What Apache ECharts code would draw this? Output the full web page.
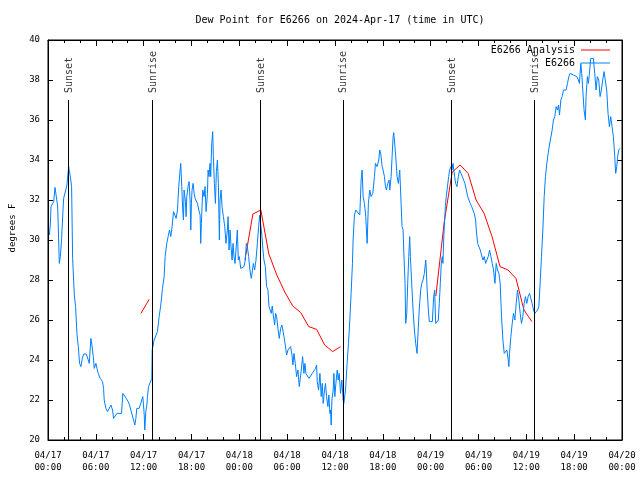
<!DOCTYPE html>
<html>
<head>
<meta charset="utf-8">
<script src="https://cdn.jsdelivr.net/npm/echarts@6/dist/echarts.min.js"></script>
<style>html,body{margin:0;padding:0;background:#fff}#chart{width:640px;height:480px}</style>
</head>
<body>
<div id="chart"></div>
<script>
// Hours since 2024-04-17 00:00 UTC
const xTickLabels = ['04/17\n00:00','04/17\n06:00','04/17\n12:00','04/17\n18:00','04/18\n00:00','04/18\n06:00','04/18\n12:00','04/18\n18:00','04/19\n00:00','04/19\n06:00','04/19\n12:00','04/19\n18:00','04/20\n00:00'];

const sunHours = [2.54, 13.06, 26.59, 36.98, 50.63, 61.02];
const sunNames = ['Sunset','Sunrise','Sunset','Sunrise','Sunset','Sunrise'];
const sunLineTop = 37;

const anaHours = [11.65, 12.69, 18.0,
  24.7, 25.7, 26.7, 27.7, 28.7, 29.7, 30.7, 31.7, 32.7, 33.7, 34.7, 35.7, 36.7, 42.0,
  48.65, 49.7, 50.7, 51.7, 52.7, 53.7, 54.7, 55.7, 56.7, 57.7, 58.7, 59.7, 60.7];
const anaDew = [26.33, 27.03, null,
  29.0, 31.3, 31.5, 29.3, 28.25, 27.4, 26.7, 26.37, 25.67, 25.53, 24.75, 24.42, 24.67, null,
  27.2, 30.9, 33.4, 33.75, 33.33, 32.0, 31.33, 30.17, 28.67, 28.5, 28.08, 26.5, 25.92];

const obsHours = [
0.17,0.29,0.38,0.59,0.71,0.88,1.13,1.21,1.42,1.55,1.71,1.88,1.96,2.17,2.38,2.59,2.80,2.96,3.09,3.30,
3.46,3.63,3.80,3.96,4.13,4.30,4.47,4.80,5.05,5.18,5.38,5.51,5.68,5.80,6.01,6.14,6.30,6.55,6.84,6.97,
7.05,7.26,7.47,7.68,7.89,8.10,8.22,8.39,8.64,9.22,9.39,9.56,9.81,10.06,10.23,10.39,10.56,10.73,10.89,11.02,
11.14,11.43,11.64,11.89,12.06,12.14,12.27,12.40,12.48,12.61,12.77,13.02,
13.07,13.31,13.52,13.73,13.94,14.15,14.36,14.57,14.69,14.90,15.07,15.24,15.40,15.57,15.74,15.90,16.07,16.24,
16.40,16.57,16.65,16.78,16.90,16.99,17.07,17.24,17.32,17.41,17.57,17.70,17.82,17.91,17.99,18.07,18.20,18.33,
18.45,18.58,18.74,18.91,19.08,19.16,19.24,19.41,19.58,19.70,19.83,20.00,20.08,20.20,20.33,20.41,20.54,20.66,
20.74,20.87,21.00,21.12,21.25,21.37,21.50,21.58,21.71,21.83,22.00,22.17,22.33,22.50,22.59,22.71,22.84,22.96,
23.09,23.21,23.33,23.46,23.58,23.75,23.87,24.00,24.17,24.58,24.75,24.88,25.00,25.17,25.33,25.50,25.59,25.76,
25.92,26.09,26.26,26.42,26.55,26.67,26.84,26.96,27.09,27.26,
27.42,27.59,27.72,27.84,28.01,28.13,28.26,28.43,28.55,28.68,28.84,29.01,29.18,29.34,29.51,29.60,29.76,29.93,
30.10,30.26,30.43,30.60,30.72,30.85,31.02,31.18,31.35,31.52,31.68,31.77,31.94,32.10,32.23,32.35,32.52,32.73,
32.94,33.15,33.35,33.56,33.69,33.77,33.94,34.11,34.27,34.40,34.52,34.69,34.81,34.94,35.11,35.23,35.36,35.44,
35.52,35.61,35.77,35.86,35.98,36.11,36.28,36.40,36.53,36.69,36.86,37.02,
37.11,37.32,37.52,37.69,37.86,38.02,38.19,38.27,38.44,38.61,38.86,39.11,39.28,39.40,39.53,39.69,39.86,39.94,
40.03,40.19,40.36,40.53,40.74,40.95,41.07,41.28,41.49,41.61,41.74,41.91,42.03,42.20,42.33,42.45,42.62,42.79,
42.87,43.04,43.16,43.29,43.37,43.49,43.62,43.79,43.95,44.12,44.29,44.41,44.54,44.62,44.79,44.87,45.00,45.12,
45.25,45.37,45.46,45.62,45.79,45.96,46.12,46.29,46.37,46.54,46.62,46.75,46.88,47.04,47.21,47.38,47.46,47.54,
47.71,47.83,48.21,48.38,48.50,48.63,48.79,48.96,49.08,49.21,49.33,49.46,49.54,49.63,49.71,49.84,49.96,50.13,
50.26,50.38,50.55,50.67,50.80,
51.01,51.13,51.30,51.47,51.63,51.80,51.97,52.13,52.30,52.47,52.64,52.80,52.97,53.14,53.30,53.47,53.64,53.72,
53.89,54.05,54.22,54.39,54.55,54.72,54.89,55.06,55.22,55.39,55.56,55.72,55.89,56.06,56.22,56.39,56.56,56.72,
56.89,57.06,57.23,57.39,57.56,57.73,57.81,57.89,58.06,58.23,58.39,58.56,58.73,58.89,59.06,59.23,59.39,59.56,
59.73,59.89,60.06,60.23,60.40,60.56,60.73,60.90,61.07,61.23,61.40,61.57,61.73,61.90,62.07,62.24,62.40,62.57,
62.74,
62.90,63.07,63.24,63.40,63.57,63.74,63.91,64.03,64.16,64.33,64.49,64.66,64.83,64.99,65.16,65.33,65.49,65.70,
65.91,66.12,66.33,66.53,66.66,66.83,66.95,67.08,67.24,67.41,67.49,67.66,67.79,67.91,68.08,68.41,68.58,68.75,
68.91,69.08,69.25,69.41,69.58,69.75,69.92,70.08,70.25,70.42,70.58,70.75,70.92,71.09,71.21,71.34,71.46,71.59,
71.75];
const obsDew = [
30.25,30.75,31.67,31.67,31.92,32.63,32.63,31.7,28.83,29.17,30.08,31.5,32.08,32.0,32.75,33.67,33.17,32.67,29.08,27.25,
26.67,25.33,24.67,23.83,23.67,24.08,24.3,24.3,24.0,23.83,25.08,24.75,24.17,23.58,23.83,23.58,23.33,23.08,22.92,22.58,
22.0,21.58,21.42,21.58,21.75,21.5,21.08,21.08,21.33,21.33,22.33,22.25,22.08,21.92,21.75,21.5,21.25,21.0,20.75,21.08,
21.58,21.58,21.83,22.17,21.33,20.5,21.42,21.75,22.17,22.67,22.75,23.08,
24.5,25.0,25.08,25.42,26.17,26.75,27.58,28.17,29.17,29.83,30.17,30.5,30.17,30.67,31.42,31.33,31.08,31.5,
32.67,33.5,33.83,32.67,31.5,31.0,32.5,31.92,31.17,32.17,32.67,32.92,32.0,30.5,31.83,32.5,32.83,32.33,
32.08,32.0,31.83,31.5,31.25,29.83,30.83,32.5,32.17,32.67,31.42,32.33,33.5,33.17,33.83,33.17,34.83,35.42,
34.17,32.83,31.83,33.42,34.0,32.83,30.0,32.0,32.5,31.67,31.17,30.67,29.83,30.5,31.17,29.5,30.5,29.67,
29.0,29.83,29.17,28.83,29.5,30.5,29.0,29.17,28.58,28.67,29.0,29.83,29.67,29.17,28.5,28.08,28.33,28.83,
28.5,29.0,29.83,30.67,31.25,30.83,30.17,29.5,29.0,28.67,
27.67,27.5,26.67,26.75,26.33,26.7,26.25,25.75,26.33,26.17,25.58,25.08,25.58,25.75,25.67,25.17,24.75,24.25,
24.5,24.42,24.67,24.25,23.75,24.33,23.83,23.17,23.5,22.67,22.67,23.5,24.17,23.33,23.83,23.33,23.42,23.08,
23.17,23.33,23.42,23.58,23.75,22.92,22.5,23.33,22.17,22.83,21.83,22.5,22.83,22.17,21.67,22.25,21.33,21.5,
20.75,22.0,22.5,23.33,22.17,22.83,23.5,23.0,23.33,22.33,23.0,22.0,
21.83,22.5,23.83,24.83,26.0,27.33,28.83,30.0,31.25,31.5,31.42,31.25,33.0,33.5,32.17,31.83,31.17,30.5,
29.83,31.83,32.5,32.17,32.33,33.17,33.83,33.67,34.0,34.5,34.33,33.67,33.5,33.17,32.67,32.5,32.83,33.0,
32.5,33.17,34.17,35.17,35.37,35.33,34.17,33.17,32.83,33.5,31.83,30.67,30.5,29.5,27.83,25.83,26.33,27.83,
29.17,30.17,29.17,27.83,26.5,25.5,24.83,24.33,25.0,26.33,26.83,27.5,27.83,28.0,28.33,29.0,28.5,27.67,
26.5,25.92,25.92,27.17,27.5,25.83,25.75,26.0,26.83,27.83,28.83,29.17,28.83,30.0,30.67,31.67,32.17,32.75,
33.17,33.5,33.67,33.5,33.83,
33.17,32.83,32.67,33.17,33.5,33.33,33.17,33.0,32.83,32.5,32.17,32.0,31.83,31.67,31.5,31.33,31.0,30.5,
29.83,29.75,29.5,29.5,29.0,29.17,28.83,28.83,29.17,29.5,29.17,28.83,28.5,27.83,28.83,28.5,28.33,27.83,
26.17,25.0,24.33,24.33,24.5,24.0,23.67,24.33,25.17,25.83,26.33,26.0,26.83,27.5,27.0,26.33,25.83,26.17,
26.83,27.17,26.83,27.17,27.33,27.33,26.83,26.5,26.33,26.33,26.5,26.67,27.83,29.17,30.5,32.17,33.17,33.83,
34.33,
34.75,34.75,35.5,36.0,36.17,36.67,36.5,36.75,36.25,37.0,37.17,37.5,37.42,37.5,37.83,38.17,38.33,38.33,
38.25,38.25,38.17,38.0,37.83,38.83,38.33,37.5,36.5,36.0,37.17,38.17,37.83,38.33,39.08,39.08,38.33,37.5,
38.17,38.0,37.17,37.5,38.0,38.42,38.42,37.5,36.33,35.67,36.17,35.67,35.17,34.17,33.33,33.67,34.17,34.5,
34.58];

const FONT = 'DejaVu Sans Mono';
const chart = echarts.init(document.getElementById('chart'), null, {renderer: 'canvas'});

function xAxisCfg(pos, showLabel) {
  return {
    type: 'value', min: 0, max: 72, interval: 6, position: pos,
    axisLine: {show: true, onZero: false, lineStyle: {color: '#000', width: 1}},
    axisTick: {show: true, inside: true, length: 6, lineStyle: {color: '#000'}},
    minorTick: {show: true, splitNumber: 3, length: 3, lineStyle: {color: '#000'}},
    splitLine: {show: false}, minorSplitLine: {show: false},
    axisLabel: {show: showLabel, formatter: v => xTickLabels[Math.round(v / 6)],
      fontFamily: FONT, fontSize: 9, color: '#000', margin: 9, lineHeight: 12.5}
  };
}
function yAxisCfg(pos, showLabel) {
  const c = {
    type: 'value', min: 20, max: 40, interval: 2, position: pos,
    axisLine: {show: true, onZero: false, lineStyle: {color: '#000', width: 1}},
    axisTick: {show: true, inside: true, length: 5, lineStyle: {color: '#000'}},
    splitLine: {show: false},
    axisLabel: {show: showLabel, fontFamily: FONT, fontSize: 9, color: '#000', margin: 8}
  };
  if (showLabel) {
    c.name = 'degrees F';
    c.nameLocation = 'middle';
    c.nameGap = 31;
    c.nameTextStyle = {fontFamily: FONT, fontSize: 9, color: '#000', padding: [0, 0, 0, 24]};
  }
  return c;
}

const option = {
  animation: false,
  backgroundColor: '#fff',
  title: {
    text: 'Dew Point for E6266 on 2024-Apr-17 (time in UTC)',
    left: 335, top: 10, textAlign: 'center',
    textStyle: {fontFamily: FONT, fontSize: 10, fontWeight: 'normal', color: '#000'}
  },
  legend: {
    data: ['E6266 Analysis', 'E6266'],
    orient: 'vertical', align: 'right', right: 25, top: 40,
    icon: 'rect', itemWidth: 29, itemHeight: 1, itemGap: 3,
    textStyle: {fontFamily: FONT, fontSize: 10, color: '#000', padding: [0, 1, 0, 0]}
  },
  grid: {left: 47, right: 18, top: 40, bottom: 40, show: true, borderColor: '#000', borderWidth: 1},
  xAxis: [xAxisCfg('bottom', true), xAxisCfg('top', false)],
  yAxis: [yAxisCfg('left', true), yAxisCfg('right', false)],
  series: [
    {
      type: 'scatter', name: 'sun', silent: true,
      symbolSize: 0,
      data: sunHours.map(h => [h, sunLineTop]),
      label: {show: true, formatter: p => sunNames[p.dataIndex], rotate: 90, position: 'inside',
        align: 'left', verticalAlign: 'middle', offset: [7, 1],
        fontFamily: FONT, fontSize: 10, color: '#000'},
      markLine: {
        silent: true, symbol: ['none', 'none'], animation: false,
        label: {show: false},
        lineStyle: {color: '#000', width: 1, type: 'solid'},
        data: sunHours.map(h => [{coord: [h, 20]}, {coord: [h, sunLineTop]}])
      }
    },
    {
      type: 'line', name: 'E6266 Analysis', symbol: 'none', showSymbol: false, connectNulls: false,
      color: '#ff0000', lineStyle: {color: '#ff0000', width: 1},
      data: anaHours.map((h, i) => anaDew[i] === null ? [h, '-'] : [h, anaDew[i]])
    },
    {
      type: 'line', name: 'E6266', symbol: 'none', showSymbol: false,
      color: '#0080ff', lineStyle: {color: '#0080ff', width: 1},
      data: obsHours.map((h, i) => [h, obsDew[i]])
    }
  ]
};
chart.setOption(option);
</script>
</body>
</html>
